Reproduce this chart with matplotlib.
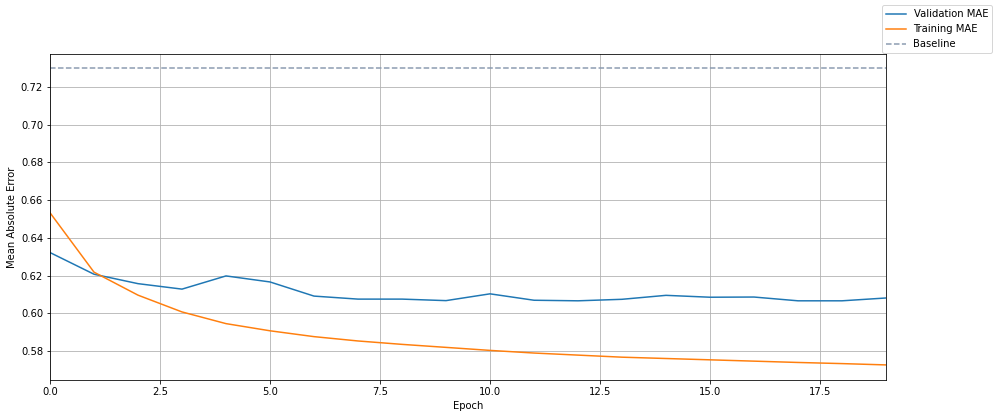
import numpy as np
import matplotlib
matplotlib.use('Agg')
import matplotlib.pyplot as plt

epochs = np.arange(20)
val_mae = [0.6322, 0.6207, 0.6157, 0.6128, 0.6198, 0.6166, 0.6091, 0.6075, 0.6075, 0.6067,
           0.6103, 0.6069, 0.6066, 0.6074, 0.6095, 0.6085, 0.6086, 0.6066, 0.6066, 0.6081]
train_mae = [0.6533, 0.6218, 0.6096, 0.6007, 0.5945, 0.5907, 0.5876, 0.5853, 0.5835, 0.5819,
             0.5803, 0.5789, 0.5778, 0.5767, 0.5760, 0.5753, 0.5746, 0.5739, 0.5733, 0.5726]
baseline = 0.7301

fig = plt.figure(figsize=(997/72, 418/72), dpi=72)
ax = fig.add_axes([50/997, 1 - 380/418, 836/997, 326/418])

ax.plot(epochs, val_mae, label='Validation MAE')
ax.plot(epochs, train_mae, label='Training MAE')
ax.axhline(baseline, color='#8a9ab0', linestyle='--', label='Baseline')

ax.set_xlim(0, 19)
ax.set_ylim(0.5646, 0.7375)
ax.set_xlabel('Epoch')
ax.set_ylabel('Mean Absolute Error')
ax.grid(True)

fig.legend(loc='upper right')

fig.savefig('out.png', dpi=72)
